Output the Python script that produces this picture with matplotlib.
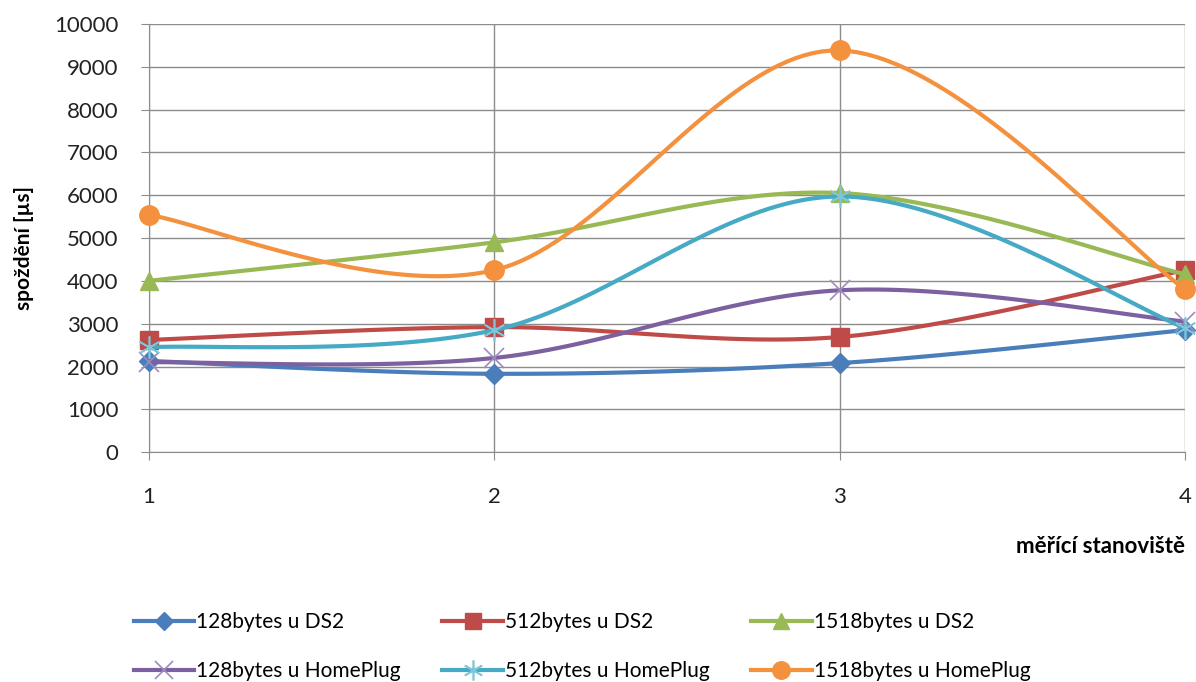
import numpy as np
import matplotlib
matplotlib.use("Agg")
import matplotlib.pyplot as plt
from matplotlib.lines import Line2D

plt.rcParams['font.family'] = ['Lato', 'DejaVu Sans']

stations = [1, 2, 3, 4]
y_ticks = [0, 1000, 2000, 3000, 4000, 5000, 6000, 7000, 8000, 9000, 10000]

s128_ds2 = [2130, 1830, 2080, 2850]
s512_ds2 = [2620, 2920, 2690, 4250]
s1518_ds2 = [4000, 4900, 6050, 4150]
s128_hp = [2100, 2200, 3780, 3050]
s512_hp = [2450, 2850, 5970, 2900]
s1518_hp = [5540, 4250, 9380, 3800]

labels = ["128bytes u DS2", "512bytes u DS2", "1518bytes u DS2",
          "128bytes u HomePlug", "512bytes u HomePlug", "1518bytes u HomePlug"]
colors = ["#4A7EBB", "#BE4B48", "#98B954", "#7D60A0", "#46AAC5", "#F4913E"]
series = [s128_ds2, s512_ds2, s1518_ds2, s128_hp, s512_hp, s1518_hp]
markers = ["D", "s", "^", "x", (6, 2, 0), "o"]
msizes = [10, 13, 13, 14, 16, 14]


def smooth(xs, ys, n=40):
    P = np.column_stack([xs, ys]).astype(float)
    ext = np.vstack([P[0], P, P[-1]])
    out = []
    t = np.linspace(0, 1, n)[:, None]
    for i in range(len(P) - 1):
        p0, p3 = ext[i + 1], ext[i + 2]
        c1 = p0 + (ext[i + 2] - ext[i]) / 6
        c2 = p3 - (ext[i + 3] - ext[i + 1]) / 6
        seg = ((1 - t) ** 3) * p0 + 3 * ((1 - t) ** 2) * t * c1 + 3 * (1 - t) * t ** 2 * c2 + t ** 3 * p3
        out.append(seg if i == 0 else seg[1:])
    out = np.vstack(out)
    return out[:, 0], out[:, 1]


fig = plt.figure(figsize=(11.96, 6.82), dpi=100)
ax = fig.add_axes([0.1246, 0.337, 0.8664, 0.628])

handles = []
for k, (ys, c, m, ms, lab) in enumerate(zip(series, colors, markers, msizes, labels)):
    sx, sy = smooth(stations, ys)
    ax.plot(sx, sy, color=c, lw=3, zorder=3 + k, solid_capstyle='round')
    mew = 1.2 if k in (3, 4) else 1
    mec = c
    mfc = c
    if k == 3:
        mec = "#A08BC0"
    if k == 4:
        mec = "#7FC6DA"
    ax.plot(stations, ys, linestyle='none', marker=m, markersize=ms, color=c,
            mfc=mfc, mec=mec, mew=mew, zorder=3 + k, clip_on=False)
    handles.append(Line2D([], [], color=c, lw=3, marker=m, markersize=ms * 0.9,
                          mfc=mfc, mec=mec, mew=mew))

ax.set_xlim(1, 4)
ax.set_ylim(0, 10000)
ax.set_xticks(stations)
ax.set_yticks(y_ticks)
ax.grid(True, color="#8C8C8C", lw=1)
ax.set_axisbelow(True)
for s in ["top", "right"]:
    ax.spines[s].set_visible(False)
for s in ["left", "bottom"]:
    ax.spines[s].set_color("#8C8C8C")
ax.tick_params(axis='y', length=6, color="#8C8C8C", pad=16, labelsize=16, labelcolor="#222222")
ax.tick_params(axis='x', length=6, color="#8C8C8C", pad=19, labelsize=16, labelcolor="#222222")

fig.text(0.02, 0.636, "spoždění [µs]", rotation=90, ha='center', va='center',
         fontsize=15, fontweight='bold')
fig.text(0.991, 0.198, "měřící stanoviště", ha='right', va='center',
         fontsize=16, fontweight='bold')

order = [0, 3, 1, 4, 2, 5]
fig.legend(handles=[handles[i] for i in order], labels=[labels[i] for i in order],
           ncol=3, loc='center left',
           bbox_to_anchor=(0.096, 0.052), frameon=False, fontsize=15,
           handlelength=2.9, handletextpad=0.1, columnspacing=2.0,
           labelspacing=1.4)

fig.savefig("out.png", dpi=100)
